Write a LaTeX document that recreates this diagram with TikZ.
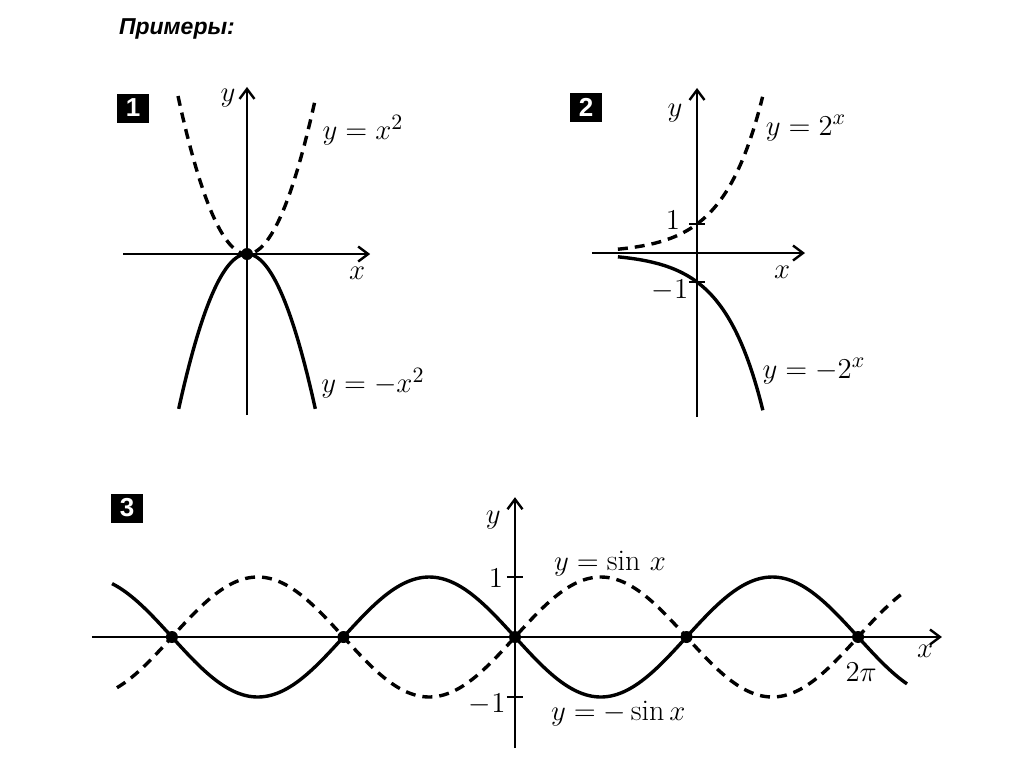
\documentclass[tikz,border=0pt]{standalone}
\usepackage{fontspec}
\newfontfamily\headfont{Liberation Sans}
\usetikzlibrary{arrows.meta}

\tikzset{
  axis/.style={line width=1.2pt,-{Straight Barb[length=5pt,width=7.5pt,line width=1.2pt]}},
  graph/.style={line width=1.7pt,smooth,samples=80},
  dashgraph/.style={graph,dash pattern=on 5pt off 3.5pt},
  numbox/.style={fill=black,text=white,inner sep=0pt,minimum width=16pt,minimum height=14.5pt,
    font=\headfont\bfseries\fontsize{13}{13}\selectfont},
  tickmark/.style={line width=1.2pt},
}

\begin{document}
\begin{tikzpicture}[x=0.5pt,y=-0.5pt,font=\fontsize{15}{18}\selectfont]

    \useasboundingbox (0,0) rectangle (1024,767);

    %draw title
    \draw (112,29) node[anchor=west,font=\headfont\bfseries\itshape\fontsize{11.5}{12}\selectfont] (title) {Примеры:};

    %draw panel numbers
    \draw (133,108) node[numbox] (boxA) {1};
    \draw (586,107) node[numbox] (boxB) {2};
    \draw (127,508) node[numbox] (boxC) {3};

    %panel 1
    \begin{scope}[shift={(247,254)},x=17.25pt,y=19.75pt]
    %draw axis
    \draw[axis] (-3.59,0) -- (3.57,0);
    \draw[axis] (0,-4.08) -- (0,4.23);

    %draw graphs
    \draw[dashgraph] plot[domain=-2:2] (\x,{\x*\x});
    \draw[graph] plot[domain=-1.98:1.98] (\x,{-\x*\x});
    \fill (0,0) circle[radius=3pt];

    %draw axis labels
    \draw (-0.55,3.95) node (yA) {$y$};
    \draw (3.19,-0.48) node (xA) {$x$};
    \draw (3.36,3.14)  node (fA) {$y = x^2$};
    \draw (3.65,-3.27) node (gA) {$y = -x^2$};
    \end{scope}

    %panel 2
    \begin{scope}[shift={(697,253)},x=13.5pt,y=14.5pt]
    %draw axis
    \draw[axis] (-3.89,0) -- (4,0);
    \draw[axis] (0,-5.66) -- (0,5.69);
    \draw[tickmark] (-0.3,1) -- (0.3,1);
    \draw[tickmark] (-0.3,-1) -- (0.3,-1);

    %draw graphs
    \draw[dashgraph] plot[domain=-2.93:2.43] (\x,{pow(2,\x)});
    \draw[graph] plot[domain=-2.93:2.44] (\x,{-pow(2,\x)});

    %draw axis labels
    \draw (-0.81,4.83) node (yB) {$y$};
    \draw (3.15,-0.66) node (xB) {$x$};
    \draw (-0.89,1.14) node (oneB) {$1$};
    \draw (-1.0,-1.28) node (moneB) {$-1$};
    \draw (4.04,4.31)  node (fB) {$y = 2^x$};
    \draw (4.33,-4.07) node (gB) {$y = -2^x$};
    \end{scope}

    %panel 3
    \begin{scope}[shift={(515,637)},x=27.3pt,y=30pt]
    %draw axis
    \draw[axis] (-7.75,0) -- (7.82,0);
    \draw[axis] (0,-1.85) -- (0,2.33);
    \draw[tickmark] (-0.15,1) -- (0.15,1);
    \draw[tickmark] (-0.15,-1) -- (0.15,-1);

    %draw graphs
    \draw[dashgraph] plot[domain=-7.29:7.09,samples=160] (\x,{sin(\x r)});
    \draw[graph] plot[domain=-7.38:7.18,samples=160] (\x,{-sin(\x r)});
    \foreach \k in {-2,...,2}
      \fill ({\k*pi},0) circle[radius=3pt];

    %draw axis labels
    \draw (-0.40,1.95) node (yC) {$y$};
    \draw (7.51,-0.23) node (xC) {$x$};
    \draw (-0.35,0.98) node (oneC) {$1$};
    \draw (-0.51,-1.13) node (moneC) {$-1$};
    \draw (6.34,-0.58) node (twopi) {$2\pi$};
    \draw (1.74,1.23)  node (fC) {$y = \sin\, x$};
    \draw (1.89,-1.28) node (gC) {$y = -\sin x$};
    \end{scope}

\end{tikzpicture}
\end{document}
